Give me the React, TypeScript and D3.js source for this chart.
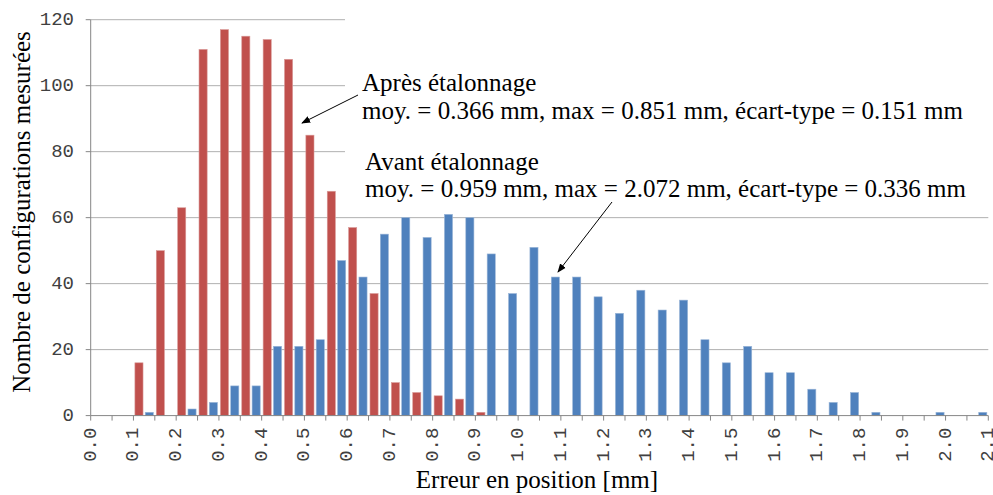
import React from 'react'
import * as d3 from 'd3'

// bins of 0.05 mm, from 0.00 to 2.10
const binStarts = d3.range(42)
const tickLabels = ['0.0', '0.1', '0.2', '0.3', '0.4', '0.5', '0.6', '0.7', '0.8', '0.9', '1.0',
  '1.1', '1.2', '1.3', '1.4', '1.5', '1.6', '1.7', '1.8', '1.9', '2.0', '2.1']
const yTicks = [0, 20, 40, 60, 80, 100, 120]

// après étalonnage (red)
const apres = [0, 0, 16, 50, 63, 111, 117, 115, 114, 108, 85, 68, 57, 37, 10, 7, 6, 5, 1, 0, 0,
  0, 0, 0, 0, 0, 0, 0, 0, 0, 0, 0, 0, 0, 0, 0, 0, 0, 0, 0, 0, 0]
// avant étalonnage (blue)
const avant = [0, 0, 1, 0, 2, 4, 9, 9, 21, 21, 23, 47, 42, 55, 60, 54, 61, 60, 49, 37, 51,
  42, 42, 36, 31, 38, 32, 35, 23, 16, 21, 13, 13, 8, 4, 7, 1, 0, 0, 1, 0, 1]

const W = 993
const H = 495
const left = 90.7
const right = 988.3
const top = 19.7
const bottom = 415.6

const serif = '"Liberation Serif", "Times New Roman", serif'
const mono = '"Liberation Mono", "Courier New", monospace'

export default function App() {
  const x = d3.scaleBand<number>().domain(binStarts).range([left, right]).padding(0)
  const y = d3.scaleLinear().domain([0, 120]).range([bottom, top])
  const bw = x.bandwidth()
  const barW = bw * 0.38
  const gap = 2.2

  const boundaries = d3.range(43).map(i => left + i * bw)

  return (
    <svg width={W} height={H} style={{ position: 'absolute', left: 0, top: 0, background: '#fff' }}>
      <defs>
        <marker id="arr" viewBox="0 0 10 10" refX="9" refY="5" markerWidth="9" markerHeight="9"
          markerUnits="userSpaceOnUse" orient="auto">
          <path d="M0,1 L10,5 L0,9 z" fill="#000" />
        </marker>
      </defs>

      {/* gridlines */}
      {yTicks.filter(t => t > 0).map(t => (
        <line key={t} x1={left} x2={right} y1={y(t)} y2={y(t)} stroke="#b0b0b0" strokeWidth={1} />
      ))}

      {/* bars */}
      {binStarts.map(i => {
        const c = (x(i) as number) + bw / 2
        return (
          <g key={i}>
            {apres[i] > 0 && (
              <rect x={c - gap / 2 - barW} y={y(apres[i])} width={barW} height={bottom - y(apres[i])}
                fill="#c0504d" stroke="#d99a98" strokeWidth={0.6} />
            )}
            {avant[i] > 0 && (
              <rect x={c + gap / 2} y={y(avant[i])} width={barW} height={bottom - y(avant[i])}
                fill="#4f81bd" stroke="#9bb6d8" strokeWidth={0.6} />
            )}
          </g>
        )
      })}

      {/* text box covering the upper gridlines */}
      <rect x={345} y={0} width={W - 345} height={205} fill="#fff" />

      {/* y axis */}
      <line x1={left} x2={left} y1={top} y2={bottom} stroke="#868686" />
      {yTicks.map(t => (
        <g key={t}>
          <line x1={left - 5} x2={left} y1={y(t)} y2={y(t)} stroke="#868686" />
          <text x={74} y={y(t)} textAnchor="end" dominantBaseline="central"
            fontFamily={mono} fontSize={19} fill="#404040">{t}</text>
        </g>
      ))}

      {/* x axis */}
      <line x1={left} x2={right} y1={bottom} y2={bottom} stroke="#868686" />
      {boundaries.map((b, i) => (
        <line key={i} x1={b} x2={b} y1={bottom} y2={bottom + 5} stroke="#868686" />
      ))}
      {tickLabels.map((l, i) => (
        <text key={l} transform={`translate(${boundaries[i * 2]},${bottom + 12}) rotate(-90)`}
          textAnchor="end" dominantBaseline="central" fontFamily={mono} fontSize={19} fill="#404040">{l}</text>
      ))}

      {/* axis titles */}
      <text transform={`translate(30,212) rotate(-90)`} textAnchor="middle" fontFamily={serif}
        fontSize={25} fill="#000">Nombre de configurations mesurées</text>
      <text x={537} y={488} textAnchor="middle" fontFamily={serif} fontSize={25} fill="#000">
        Erreur en position [mm]
      </text>

      {/* annotations */}
      <text fontFamily={serif} fontSize={25} fill="#000">
        <tspan x={362} y={91}>Après étalonnage</tspan>
        <tspan x={362} y={119}>moy. = 0.366 mm, max = 0.851 mm, écart-type = 0.151 mm</tspan>
      </text>
      <text fontFamily={serif} fontSize={25} fill="#000">
        <tspan x={365} y={170}>Avant étalonnage</tspan>
        <tspan x={365} y={197}>moy. = 0.959 mm, max = 2.072 mm, écart-type = 0.336 mm</tspan>
      </text>
      <line x1={358} y1={95} x2={302} y2={123} stroke="#000" strokeWidth={1} markerEnd="url(#arr)" />
      <line x1={612} y1={202} x2={558} y2={272} stroke="#000" strokeWidth={1} markerEnd="url(#arr)" />
    </svg>
  )
}
